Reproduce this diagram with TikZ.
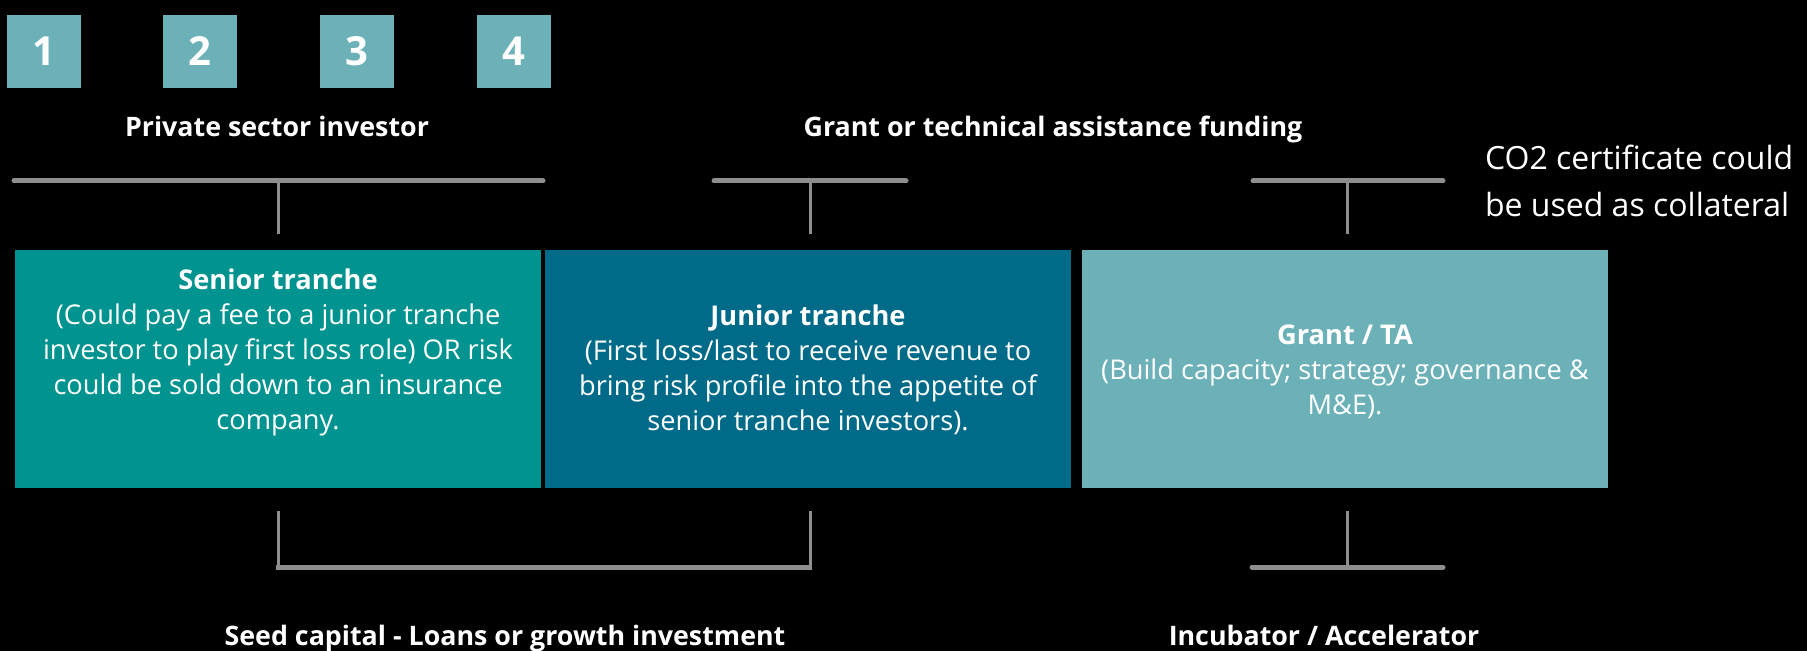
\documentclass[tikz,border=0pt]{standalone}
\usepackage{fontspec}
\setmainfont{Open Sans}
\usetikzlibrary{positioning}
\definecolor{seniorc}{HTML}{00938F}
\definecolor{juniorc}{HTML}{006A89}
\definecolor{grantc}{HTML}{6CB1B8}
\definecolor{barc}{HTML}{8E8E8E}
\tikzset{
  numbox/.style = {fill=grantc, minimum width=37pt, minimum height=36.5pt,
    inner sep=0pt, text=white, font=\fontsize{20}{24}\selectfont\bfseries},
  tranche/.style = {minimum width=263pt, minimum height=119pt, inner sep=0pt},
  boxtext/.style = {text=white, align=center,
    font=\fontsize{13.6}{17.5}\selectfont},% texte dans les blocs
  headtext/.style = {text=white, anchor=base,
    font=\fontsize{13.4}{16}\selectfont\bfseries},
  hbar/.style = {draw=barc, line width=2.5pt, line cap=round},
  vbar/.style = {draw=barc, line width=1.5pt}
}

\begin{document}
\begin{tikzpicture}[x=0.5pt, y=-0.5pt]
\fill[black] (0,0) rectangle (1807,651);
\useasboundingbox (0,0) rectangle (1807,651);
% numeros
\node [numbox] (n1) at (43.5,51.5) {1};
\node [numbox, right=41pt of n1] (n2) {2};
\node [numbox, right=41pt of n2] (n3) {3};
\node [numbox, right=41pt of n3] (n4) {4};
% titres du haut
\node [headtext] (private) at (277,137) {Private sector investor};
\node [headtext] (fund) at (1053,137) {Grant or technical assistance funding};
\node [text=white, anchor=west, align=left,
  font=\fontsize{16}{23.5}\selectfont] (co2) at (1478,181)
  {CO2 certificate could\\be used as collateral};
% blocs
\node [tranche, fill=seniorc] (senior) at (278,369) {};
\node [tranche, fill=juniorc] (junior) at (808,369) {};
\node [tranche, fill=grantc] (grant) at (1345,369) {};
\node [boxtext] (seniort) at (278,352) {\textbf{Senior tranche}\\
  (Could pay a fee to a junior tranche\\
  investor to play first loss role) OR risk\\
  could be sold down to an insurance\\
  company.};
\node [boxtext] (juniort) at (808,370) {\textbf{Junior tranche}\\
  (First loss/last to receive revenue to\\
  bring risk profile into the appetite of\\
  senior tranche investors).};
\node [boxtext] (grantt) at (1345,372) {\textbf{Grant / TA}\\
  (Build capacity; strategy; governance \&\\
  M\&E).};
% titres du bas
\node [headtext] (seed) at (505,645) {Seed capital - Loans or growth investment};
\node [headtext] (incub) at (1324,645) {Incubator / Accelerator};
% barres du haut
\coordinate (pl) at (14,181);
\coordinate (pr) at (543,181);
\coordinate (jl) at (714,181);
\coordinate (jr) at (906,181);
\coordinate (gl) at (1253,181);
\coordinate (gr) at (1443,181);
\draw [hbar] (pl) -- (pr);
\draw [hbar] (jl) -- (jr);
\draw [hbar] (gl) -- (gr);
\draw [vbar] (senior.north |- pl) -- ([yshift=8pt]senior.north);
\draw [vbar] ([xshift=1pt]junior.north |- jl) -- ([xshift=1pt,yshift=8pt]junior.north);
\draw [vbar] ([xshift=1pt]grant.north |- gl) -- ([xshift=1pt,yshift=8pt]grant.north);
% barres du bas
\coordinate (sl) at (276,567);
\coordinate (sr) at (812,567);
\coordinate (il) at (1252,567);
\coordinate (ir) at (1443,567);
\draw [vbar] ([yshift=-11.5pt]senior.south) -- (senior.south |- sl);
\draw [vbar] ([xshift=1pt,yshift=-11.5pt]junior.south) -- ([xshift=1pt]junior.south |- sl);
\draw [vbar] ([xshift=1pt,yshift=-11.5pt]grant.south) -- ([xshift=1pt]grant.south |- il);
\draw [hbar, line cap=butt] (sl) -- (sr);
\draw [hbar] (il) -- (ir);
\end{tikzpicture}
\end{document}
